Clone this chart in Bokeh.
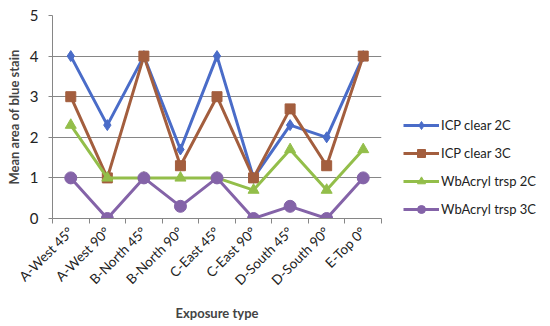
import math
from bokeh.plotting import figure
from bokeh.models import FixedTicker, Legend, LegendItem, ColumnDataSource
from bokeh.embed import file_html
from bokeh.resources import INLINE

categories = ["A-West 45°", "A-West 90°", "B-North 45°", "B-North 90°", "C-East 45°",
              "C-East 90°", "D-South 45°", "D-South 90°", "E-Top 0°"]
icp_clear_2c = [4, 2.3, 4, 1.7, 4, 1, 2.3, 2, 4]
icp_clear_3c = [3, 1, 4, 1.3, 3, 1, 2.7, 1.3, 4]
wbacryl_2c = [2.3, 1, 1, 1, 1, 0.7, 1.7, 0.7, 1.7]
wbacryl_3c = [1, 0, 1, 0.3, 1, 0, 0.3, 0, 1]
y_ticks = [0, 1, 2, 3, 4, 5]

xs = list(range(1, len(categories) + 1))

p = figure(width=548, height=324, output_backend="svg", toolbar_location=None,
           x_range=(0.5, len(categories) + 0.5), y_range=(0, 5),
           frame_width=329, frame_height=203,
           min_border_left=52, min_border_top=15, min_border_right=167, min_border_bottom=106)
p.outline_line_color = None
p.background_fill_color = "white"

FONT = "Lato"
GRID = "#868686"

p.xaxis.ticker = FixedTicker(ticks=xs, minor_ticks=[x + 0.5 for x in range(0, len(categories) + 1)])
p.xaxis.major_label_overrides = {x: c for x, c in zip(xs, categories)}
p.xaxis.major_label_orientation = math.pi / 4
p.xaxis.major_tick_line_color = None
p.xaxis.minor_tick_line_color = GRID
p.xaxis.minor_tick_out = 5
p.xaxis.minor_tick_in = 0
p.xaxis.axis_line_color = GRID
p.xaxis.major_label_text_font = FONT
p.xaxis.major_label_text_font_size = "13.5px"
p.xaxis.major_label_text_color = "#222222"
p.xaxis.axis_label = "Exposure type"
p.xaxis.axis_label_text_font = FONT
p.xaxis.axis_label_text_font_style = "bold"
p.xaxis.axis_label_text_font_size = "13px"
p.xaxis.axis_label_standoff = 8

p.yaxis.ticker = FixedTicker(ticks=y_ticks, minor_ticks=[])
p.yaxis.major_tick_line_color = GRID
p.yaxis.major_tick_out = 4
p.yaxis.major_tick_in = 0
p.yaxis.axis_line_color = GRID
p.yaxis.major_label_text_font = FONT
p.yaxis.major_label_text_font_size = "15px"
p.yaxis.major_label_text_color = "#222222"
p.yaxis.major_label_standoff = 10
p.yaxis.axis_label = "Mean area of blue stain"
p.yaxis.axis_label_text_font = FONT
p.yaxis.axis_label_text_font_style = "bold"
p.yaxis.axis_label_text_font_size = "13px"
p.yaxis.axis_label_standoff = 5

p.xgrid.grid_line_color = None
p.ygrid.ticker = FixedTicker(ticks=y_ticks)
p.ygrid.grid_line_color = GRID
p.ygrid.grid_line_width = 1

series = [
    ("ICP clear 2C", icp_clear_2c, "#4A6CC8", "diamond", 11),
    ("ICP clear 3C", icp_clear_3c, "#A35E3E", "square", 10),
    ("WbAcryl trsp 2C", wbacryl_2c, "#93BE4A", "triangle", 11),
    ("WbAcryl trsp 3C", wbacryl_3c, "#8463A8", "circle", 12),
]

items = []
for name, vals, color, marker, size in series:
    src = ColumnDataSource(dict(x=xs, y=vals))
    r1 = p.line("x", "y", source=src, line_color=color, line_width=3)
    r2 = p.scatter("x", "y", source=src, marker=marker, size=size,
                   fill_color=color, line_color=color)
    items.append(LegendItem(label=name, renderers=[r1, r2]))

legend = Legend(items=items, location=(22, -1), orientation="vertical")
legend.border_line_color = None
legend.background_fill_alpha = 0
legend.glyph_width = 36
legend.glyph_height = 20
legend.spacing = 8
legend.label_standoff = 2
legend.label_text_font = FONT
legend.label_text_font_size = "13px"
legend.label_text_color = "#222222"
legend.padding = 0
legend.margin = 0
p.add_layout(legend, "right")

open("out.html", "w").write(file_html(p, INLINE))
